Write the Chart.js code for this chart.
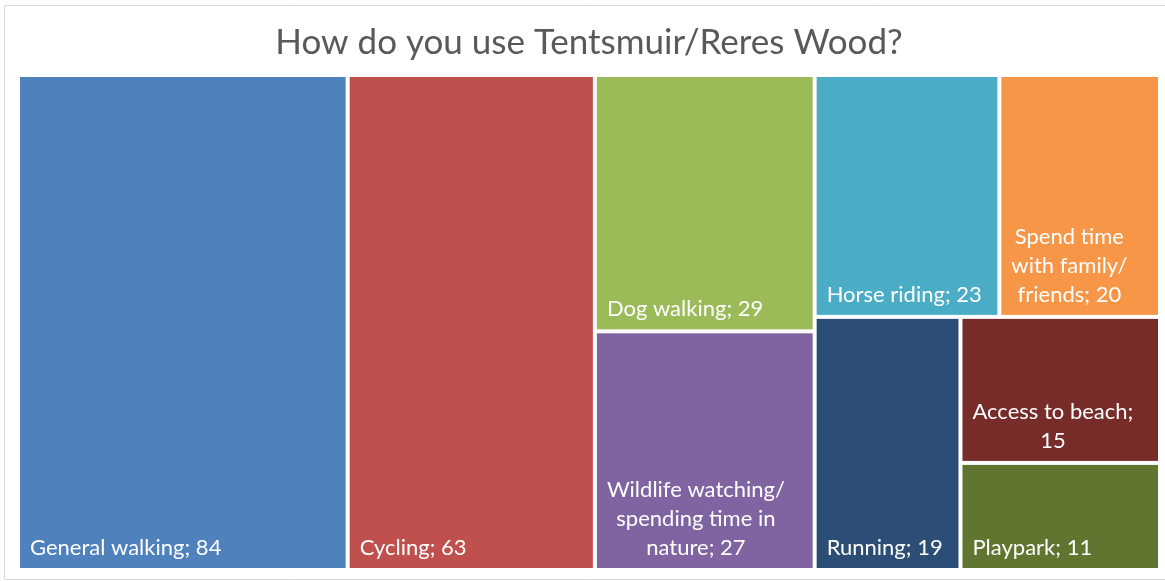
<!DOCTYPE html>
<html>
<head>
<meta charset="utf-8">
<script src="https://cdn.jsdelivr.net/npm/chart.js@4.4.1/dist/chart.umd.min.js"></script>
<style>
  html, body { margin: 0; padding: 0; background: #fff; }
  #wrap { width: 1165px; height: 581px; }
</style>
</head>
<body>
<div id="wrap"><canvas id="treeCanvas"></canvas></div>
<script>
// categorias y recuentos (ordenados de mayor a menor)
const categorias = ['General walking', 'Cycling', 'Dog walking', 'Wildlife watching/spending time in nature',
    'Horse riding', 'Spend time with family/friends', 'Running', 'Access to beach', 'Playpark'];
const recuentos = [84, 63, 29, 27, 23, 20, 19, 15, 11];
const colores = ['#4F81BD', '#C0504D', '#9BBB59', '#8064A2', '#4BACC6', '#F79646', '#2C4D75', '#772C2A', '#5F7530'];

const FUENTE = 'Lato, "Open Sans", sans-serif';

// squarified treemap en unidades proporcionales (ancho = aspecto, alto = 1)
function squarify(valores, ancho, alto) {
    const total = valores.reduce((a, b) => a + b, 0);
    const items = valores.map((v, i) => ({ i, a: v / total * ancho * alto }));
    const celdas = [];
    let x = 0, y = 0, w = ancho, h = alto;
    let fila = [];

    const peor = (f, lado) => {
        const s = f.reduce((a, r) => a + r.a, 0);
        return Math.max(...f.map(r => Math.max(lado * lado * r.a / (s * s), s * s / (lado * lado * r.a))));
    };
    const colocar = (f) => {
        const s = f.reduce((a, r) => a + r.a, 0);
        if (w >= h) {
            const cw = s / h;
            let yy = y;
            f.forEach(r => { const ch = r.a / cw; celdas[r.i] = { x0: x, x1: x + cw, y0: yy, y1: yy + ch }; yy += ch; });
            x += cw; w -= cw;
        } else {
            const ch = s / w;
            let xx = x;
            f.forEach(r => { const cw = r.a / ch; celdas[r.i] = { x0: xx, x1: xx + cw, y0: y, y1: y + ch }; xx += cw; });
            y += ch; h -= ch;
        }
    };

    while (items.length) {
        const lado = Math.min(w, h);
        const sig = items[0];
        if (fila.length === 0 || peor(fila.concat(sig), lado) <= peor(fila, lado)) {
            fila.push(sig); items.shift();
        } else {
            colocar(fila); fila = [];
        }
    }
    if (fila.length) colocar(fila);
    return celdas;
}

// parte el texto en lineas: corta en espacios y despues de '/'
function partirTexto(ctx, texto, maxAncho) {
    const tokens = [];
    texto.split(' ').forEach((pal, k) => {
        const trozos = pal.split(/(?<=\/)/);
        trozos.forEach((t, j) => tokens.push({ t, esp: k > 0 && j === 0 }));
    });
    const lineas = [];
    let actual = '';
    tokens.forEach(tk => {
        const prueba = actual === '' ? tk.t : actual + (tk.esp ? ' ' : '') + tk.t;
        if (actual !== '' && ctx.measureText(prueba).width > maxAncho) {
            lineas.push(actual);
            actual = tk.t;
        } else {
            actual = prueba;
        }
    });
    if (actual) lineas.push(actual);
    return lineas;
}

const marcoPlugin = {
    id: 'marco',
    beforeDraw(chart) {
        const ctx = chart.ctx;
        ctx.save();
        ctx.strokeStyle = '#d9d9d9';
        ctx.lineWidth = 1;
        ctx.beginPath();
        ctx.moveTo(1165, 5.5); ctx.lineTo(4.5, 5.5); ctx.lineTo(4.5, 579.5); ctx.lineTo(1165, 579.5);
        ctx.stroke();
        ctx.restore();
    }
};

const treemapPlugin = {
    id: 'treemap',
    afterDatasetsDraw(chart) {
        const { ctx, chartArea, scales } = chart;
        const aspecto = chartArea.width / chartArea.height;
        const celdas = squarify(recuentos, aspecto, 1);
        const hueco = 2;
        ctx.save();
        celdas.forEach((c, i) => {
            const l = scales.x.getPixelForValue(c.x0 / aspecto) + hueco;
            const r = scales.x.getPixelForValue(c.x1 / aspecto) - hueco;
            const t = scales.y.getPixelForValue(c.y0) + hueco;
            const b = scales.y.getPixelForValue(c.y1) - hueco;
            ctx.fillStyle = colores[i];
            ctx.fillRect(l, t, r - l, b - t);

            ctx.font = '22px ' + FUENTE;
            ctx.fillStyle = '#ffffff';
            ctx.textBaseline = 'alphabetic';
            const lineas = partirTexto(ctx, `${categorias[i]}; ${recuentos[i]}`, r - l - 20);
            const anchoBloque = Math.max(...lineas.map(s => ctx.measureText(s).width));
            const cx = l + 10 + anchoBloque / 2;
            ctx.textAlign = 'center';
            lineas.forEach((s, k) => {
                const base = b - 13 - (lineas.length - 1 - k) * 29;
                ctx.fillText(s, cx, base);
            });
        });
        ctx.restore();
    }
};

new Chart(document.getElementById('treeCanvas').getContext('2d'), {
    type: 'scatter',
    data: { datasets: [{ label: 'Uso', data: [] }] },
    options: {
        responsive: true,
        maintainAspectRatio: false,
        animation: false,
        layout: { padding: { left: 18, right: 5, top: 0, bottom: 11 } },
        plugins: {
            legend: { display: false },
            tooltip: { enabled: false },
            title: {
                display: true,
                text: 'How do you use Tentsmuir/Reres Wood?',
                color: '#595959',
                font: { family: FUENTE, size: 35, weight: 'normal', lineHeight: 1.2 },
                padding: { top: 22, bottom: 11 }
            }
        },
        scales: {
            x: { type: 'linear', min: 0, max: 1, display: false },
            y: { type: 'linear', min: 0, max: 1, reverse: true, display: false }
        }
    },
    plugins: [marcoPlugin, treemapPlugin]
});
</script>
</body>
</html>
